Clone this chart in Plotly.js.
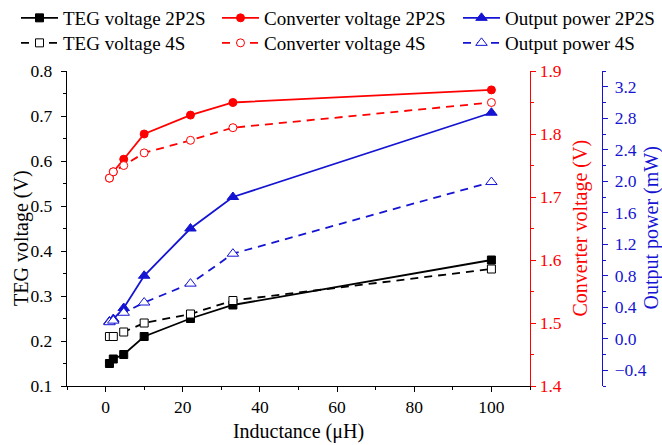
<!DOCTYPE html>
<html>
<head>
<meta charset="utf-8">
<script src="https://cdn.plot.ly/plotly-3.0.1.min.js"></script>
<style>
  html, body { margin: 0; padding: 0; background: #ffffff; }
  #chart { width: 662px; height: 445px; }
</style>
</head>
<body>
<div id="chart"></div>
<script>
// Inductance values (µH)
const inductance = [1, 2, 4.7, 10, 22, 33, 100];

// TEG voltage (V), left axis
const tegVoltage2P2S = [0.15, 0.16, 0.17, 0.21, 0.25, 0.28, 0.38];
const tegVoltage4S   = [0.21, 0.21, 0.22, 0.24, 0.26, 0.29, 0.36];

// Converter voltage (V), first right axis
const convVoltage2P2S = [1.73, 1.74, 1.76, 1.80, 1.83, 1.85, 1.87];
const convVoltage4S   = [1.73, 1.74, 1.75, 1.77, 1.79, 1.81, 1.85];

// Output power (mW), second right axis
const outPower2P2S = [0.22, 0.25, 0.39, 0.80, 1.40, 1.80, 2.87];
const outPower4S   = [0.21, 0.23, 0.33, 0.46, 0.70, 1.08, 1.99];

const FONT = 'Liberation Serif';
const BLACK = '#000000';
const RED = '#ff0000';
const BLUE = '#1414d2';
const DASH = '8px,6px';

// Solid lines with filled markers for 2P2S, dashed lines with hollow
// (white-filled) markers for 4S.
function series(name, y, yaxis, color, symbol, hollow, legend) {
  return {
    type: 'scatter',
    mode: 'lines+markers',
    name: name,
    x: inductance,
    y: y,
    yaxis: yaxis,
    legend: legend,
    line: { color: color, width: 1.8, dash: hollow ? DASH : 'solid' },
    marker: {
      symbol: symbol,
      size: symbol === 'triangle-up' ? 10 : 8,
      color: hollow ? '#ffffff' : color,
      line: { color: color, width: 1 }
    }
  };
}

const traces = [
  series('TEG voltage 2P2S', tegVoltage2P2S, 'y', BLACK, 'square', false, 'legend'),
  series('Converter voltage 2P2S', convVoltage2P2S, 'y2', RED, 'circle', false, 'legend2'),
  series('Output power 2P2S', outPower2P2S, 'y3', BLUE, 'triangle-up', false, 'legend3'),
  series('TEG voltage 4S', tegVoltage4S, 'y', BLACK, 'square', true, 'legend4'),
  series('Converter voltage 4S', convVoltage4S, 'y2', RED, 'circle', true, 'legend5'),
  series('Output power 4S', outPower4S, 'y3', BLUE, 'triangle-up', true, 'legend6')
];

const tickFont = (c) => ({ family: FONT, size: 17.5, color: c });
const titleFont = (c) => ({ family: FONT, size: 20, color: c });

// One legend box per entry so the two rows of three line up in columns.
function legendAt(px, py) {
  return {
    xref: 'container', yref: 'container',
    x: px / 662, y: 1 - py / 445, xanchor: 'left', yanchor: 'middle',
    orientation: 'v',
    bgcolor: 'rgba(0,0,0,0)',
    font: { family: FONT, size: 19, color: '#000' },
    itemwidth: 37,
    tracegroupgap: 0
  };
}

const layout = {
  width: 662,
  height: 445,
  margin: { l: 67, r: 40, t: 71, b: 59, autoexpand: false },
  paper_bgcolor: '#ffffff',
  plot_bgcolor: '#ffffff',
  font: { family: FONT, color: '#000' },
  showlegend: true,
  legend: legendAt(16, 18),
  legend2: legendAt(217, 18),
  legend3: legendAt(458, 18),
  legend4: legendAt(16, 43),
  legend5: legendAt(217, 43),
  legend6: legendAt(458, 43),
  xaxis: {
    domain: [0, 463 / 555],
    range: [-10, 110],
    dtick: 20,
    tick0: 0,
    ticks: 'outside', ticklen: 5, tickwidth: 1, tickcolor: BLACK,
    minor: { dtick: 10, ticks: 'outside', ticklen: 3, tickcolor: BLACK },
    showline: true, linecolor: BLACK, linewidth: 1.2,
    showgrid: false, zeroline: false,
    automargin: false,
    tickfont: tickFont(BLACK),
    title: { text: 'Inductance (\u03bcH)', font: titleFont(BLACK), standoff: 7 }
  },
  yaxis: {
    range: [0.1, 0.8],
    dtick: 0.1, tick0: 0.1, tickformat: '.1f',
    ticks: 'outside', ticklen: 5, tickwidth: 1, tickcolor: BLACK,
    minor: { dtick: 0.05, ticks: 'outside', ticklen: 3, tickcolor: BLACK },
    ticklabelstandoff: 5,
    showline: true, linecolor: BLACK, linewidth: 1.2,
    showgrid: false, zeroline: false,
    automargin: false,
    tickfont: tickFont(BLACK)
  },
  yaxis2: {
    overlaying: 'y', side: 'right', anchor: 'x',
    range: [1.4, 1.9],
    dtick: 0.1, tick0: 1.4, tickformat: '.1f',
    ticks: 'outside', ticklen: 5, tickwidth: 1, tickcolor: RED,
    minor: { dtick: 0.05, ticks: 'outside', ticklen: 3, tickcolor: RED },
    showline: true, linecolor: RED, linewidth: 1.2,
    showgrid: false, zeroline: false,
    automargin: false,
    tickfont: tickFont(RED)
  },
  yaxis3: {
    overlaying: 'y', side: 'right', anchor: 'free',
    position: (602 - 67) / 555,
    range: [-0.6, 3.4],
    dtick: 0.4, tick0: -0.4, tickformat: '.1f',
    ticks: 'outside', ticklen: 5, tickwidth: 1, tickcolor: BLUE,
    minor: { dtick: 0.2, ticks: 'outside', ticklen: 3, tickcolor: BLUE },
    ticklabelstandoff: 3,
    showline: true, linecolor: BLUE, linewidth: 1.2,
    showgrid: false, zeroline: false,
    automargin: false,
    tickfont: tickFont(BLUE)
  },
  // Vertical axis titles, one beside each value axis
  annotations: [
    { text: 'TEG voltage (V)', xref: 'paper', yref: 'paper',
      x: (22 - 67) / 555, y: 0.47, textangle: -90, showarrow: false,
      xanchor: 'center', yanchor: 'middle', font: titleFont(BLACK) },
    { text: 'Converter voltage (V)', xref: 'paper', yref: 'paper',
      x: (580 - 67) / 555, y: 0.5, textangle: -90, showarrow: false,
      xanchor: 'center', yanchor: 'middle', font: titleFont(RED) },
    { text: 'Output power (mW)', xref: 'paper', yref: 'paper',
      x: (651 - 67) / 555, y: 0.5, textangle: -90, showarrow: false,
      xanchor: 'center', yanchor: 'middle', font: titleFont(BLUE) }
  ]
};

Plotly.newPlot('chart', traces, layout, { displayModeBar: false, staticPlot: true });
</script>
</body>
</html>
